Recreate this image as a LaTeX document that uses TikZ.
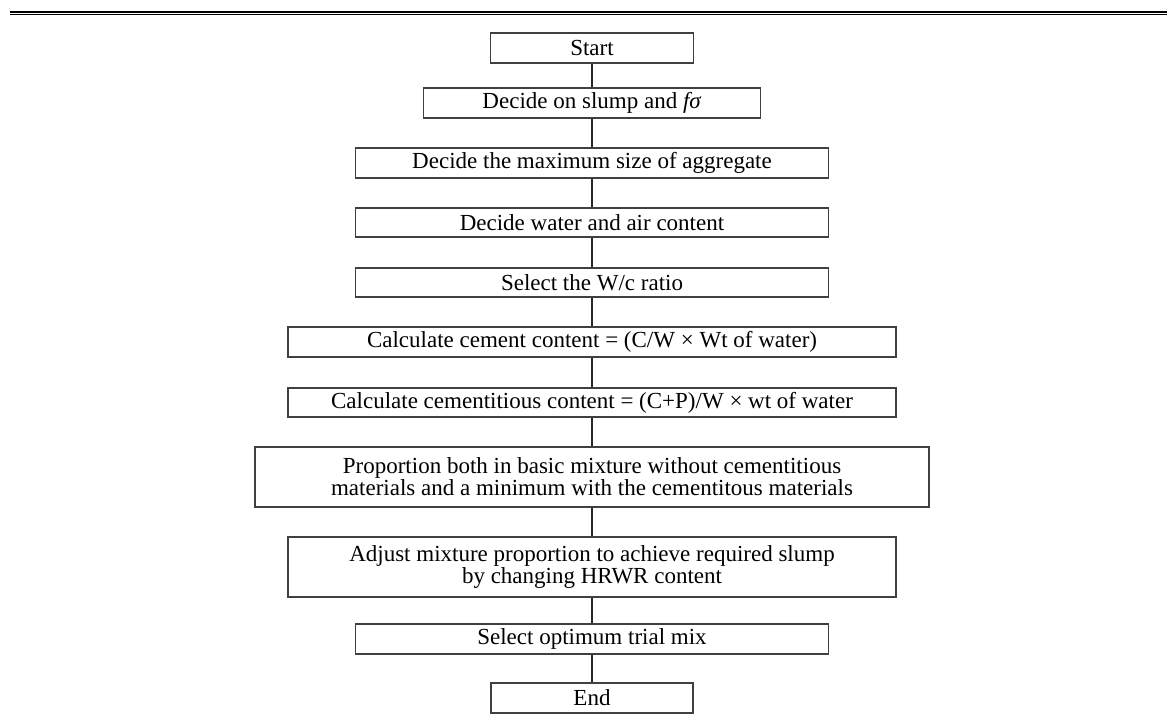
\documentclass[tikz,border=0pt]{standalone}
\usepackage{fontspec}
\setmainfont{Liberation Serif}
\begin{document}
\begin{tikzpicture}[x=0.5pt,y=-0.5pt,
  box/.style={draw=black!75, line width=0.6pt, rectangle, inner sep=0pt, align=center,
    font=\fontsize{11.5}{11}\selectfont, minimum height=15pt},
  link/.style={draw=black!85, line width=0.55pt}]
\useasboundingbox (0,0) rectangle (1167,720);
\draw[line width=1.25pt] (10,12.2) -- (1167,12.2);
\draw[line width=0.5pt] (10,14.6) -- (1167,14.6);
\node[box, minimum width=101.5pt] (n1) at (592,48) {Start};
\node[box, minimum width=168.5pt] (n2) at (592,103) {Decide on slump and \textit{fσ}};
\node[box, minimum width=236.5pt] (n3) at (592,163) {Decide the maximum size of aggregate};
\node[box, minimum width=236.5pt, minimum height=14.5pt] (n4) at (592,222.5) {Decide water and air content};
\node[box, minimum width=236.5pt, minimum height=14.5pt] (n5) at (592,282.5) {Select the W/c ratio};
\node[box, minimum width=304pt] (n6) at (592,342) {Calculate cement content = (C/W × Wt of water)};
\node[box, minimum width=304pt, minimum height=14.5pt] (n7) at (592,402.5) {Calculate cementitious content = (C+P)/W × wt of water};
\node[box, minimum width=337pt, minimum height=30pt] (n8) at (592,477) {Proportion both in basic mixture without cementitious\\materials and a minimum with the cementitous materials};
\node[box, minimum width=304pt, minimum height=30pt] (n9) at (592,567) {Adjust mixture proportion to achieve required slump\\by changing HRWR content};
\node[box, minimum width=236.5pt] (n10) at (592,639) {Select optimum trial mix};
\node[box, minimum width=101pt] (n11) at (592,698) {End};
\foreach \a/\b in {n1/n2,n2/n3,n3/n4,n4/n5,n5/n6,n6/n7,n7/n8,n8/n9,n9/n10,n10/n11}
  \draw[link] (\a.south) -- (\b.north);
\end{tikzpicture}
\end{document}
